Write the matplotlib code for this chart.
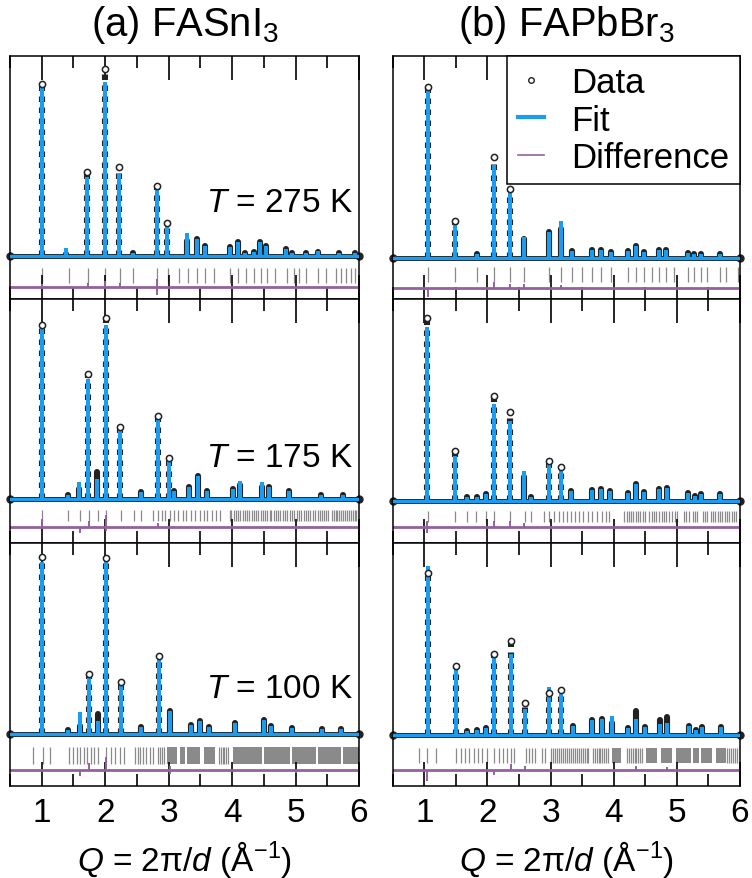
import numpy as np
import matplotlib
matplotlib.use("Agg")
import matplotlib.pyplot as plt
from matplotlib.lines import Line2D

plt.rcParams["font.family"] = ["Liberation Sans", "DejaVu Sans"]
plt.rcParams["mathtext.fontset"] = "custom"
plt.rcParams["mathtext.rm"] = "Liberation Sans"
plt.rcParams["mathtext.it"] = "Liberation Sans:italic"
plt.rcParams["font.size"] = 24

# ---- (a) FASnI3, 275 K ----
A1_Q = [1.00, 1.39, 1.72, 2.00, 2.22, 2.44, 2.81, 2.98, 3.29, 3.44, 3.58, 3.96,
        4.09, 4.21, 4.34, 4.44, 4.54, 4.85, 4.95, 5.16, 5.35, 5.69, 5.93]
A1_FIT = [0.861, 0.04, 0.393, 0.87, 0.41, 0.017, 0.334, 0.167, 0.117, 0.084, 0.05, 0.047,
          0.07, 0.017, 0.02, 0.07, 0.05, 0.037, 0.017, 0.017, 0.025, 0.013, 0.017]
A1_OBS = [0.86, 0.01, 0.418, 0.933, 0.443, 0.017, 0.348, 0.167, 0.075, 0.084, 0.05, 0.047,
          0.07, 0.017, 0.02, 0.07, 0.05, 0.037, 0.017, 0.017, 0.02, 0.013, 0.017]
A1_REFL = [1.01, 1.43, 1.73, 2.00, 2.23, 2.44, 2.82, 2.99, 3.16, 3.31, 3.45, 3.58, 3.71,
           3.96, 4.09, 4.22, 4.34, 4.45, 4.55, 4.67, 4.86, 4.98, 5.05, 5.16, 5.36, 5.48,
           5.64, 5.72, 5.80, 5.87, 5.93]
A1_BANDS = []
A1_DIFF_Q = [1.00, 1.73, 2.00, 2.23, 2.82, 2.82]
A1_DIFF_A = [0.015, 0.02, 0.03, 0.02, 0.04, -0.04]

# ---- (a) FASnI3, 175 K ----
A2_Q = [1.00, 1.41, 1.58, 1.73, 1.876, 2.01, 2.24, 2.56, 2.84, 3.00, 3.09, 3.32, 3.47,
        3.61, 4.01, 4.12, 4.47, 4.58, 4.90, 5.40, 5.74]
A2_FIT = [0.88, 0.02, 0.083, 0.60, 0.10, 0.873, 0.359, 0.033, 0.409, 0.204, 0.04, 0.062,
          0.117, 0.04, 0.05, 0.092, 0.083, 0.062, 0.038, 0.02, 0.02]
A2_OBS = [0.87, 0.02, 0.05, 0.626, 0.134, 0.906, 0.362, 0.033, 0.417, 0.204, 0.04, 0.062,
          0.117, 0.04, 0.05, 0.07, 0.06, 0.062, 0.038, 0.02, 0.02]
A2_REFL = [1.00, 1.42, 1.60, 1.74, 1.88, 2.01, 2.25, 2.46, 2.57, 2.76, 2.83, 2.89, 2.95,
           3.02, 3.08, 3.15, 3.22, 3.28, 3.35, 3.42, 3.49, 3.55, 3.61, 3.68, 3.75, 3.81,
           3.96, 3.99, 4.03, 4.06, 4.10, 4.13, 4.17, 4.20, 4.24, 4.27, 4.31, 4.34, 4.38,
           4.41, 4.45, 4.48, 4.52, 4.55, 4.59, 4.62, 4.66, 4.69, 4.73, 4.76, 4.80, 4.83,
           4.87, 4.92, 4.95, 4.98, 5.02, 5.05, 5.08, 5.14, 5.17, 5.20, 5.23, 5.27, 5.30,
           5.36, 5.39, 5.42, 5.45, 5.48, 5.51, 5.57, 5.60, 5.63, 5.66, 5.69, 5.72, 5.75,
           5.78, 5.81, 5.84, 5.87, 5.90, 5.93, 5.96]
A2_BANDS = []
A2_DIFF_Q = [1.00, 1.60, 1.74, 2.01, 2.01, 2.84]
A2_DIFF_A = [0.04, -0.03, 0.03, 0.06, -0.02, 0.02]

# ---- (a) FASnI3, 100 K ----
A3_Q = [1.00, 1.41, 1.60, 1.74, 1.88, 2.01, 2.25, 2.57, 2.85, 3.02, 3.35, 3.50, 3.64,
        4.04, 4.51, 4.61, 4.95, 5.42, 5.72]
A3_FIT = [0.897, 0.02, 0.113, 0.314, 0.07, 0.915, 0.27, 0.035, 0.40, 0.122, 0.049, 0.066,
          0.038, 0.056, 0.073, 0.04, 0.031, 0.026, 0.026]
A3_OBS = [0.923, 0.02, 0.044, 0.314, 0.105, 0.92, 0.27, 0.035, 0.41, 0.122, 0.049, 0.066,
          0.038, 0.056, 0.073, 0.04, 0.031, 0.026, 0.026]
A3_REFL = [0.87, 1.02, 1.13, 1.43, 1.50, 1.55, 1.61, 1.66, 1.71, 1.77, 1.83, 1.89, 2.02,
           2.09, 2.15, 2.23, 2.29, 2.47, 2.51, 2.55, 2.60, 2.64, 2.70, 2.75, 2.84, 2.87,
           2.90, 2.93, 3.79, 3.82, 3.85, 3.88, 3.91, 3.94]
A3_BANDS = [(2.97, 3.13), (3.18, 3.26), (3.29, 3.50), (3.56, 3.73), (4.02, 4.47),
            (4.50, 4.91), (4.95, 5.32), (5.35, 5.71), (5.74, 6.00)]
A3_DIFF_Q = [1.60, 1.74, 2.02, 3.02, 3.02, 5.00]
A3_DIFF_A = [-0.03, 0.035, 0.07, 0.02, -0.02, -0.015]

# ---- (b) FAPbBr3, 275 K ----
B1_Q = [1.055, 1.49, 1.83, 2.11, 2.36, 2.58, 2.98, 3.165, 3.34, 3.65, 3.80, 3.95, 4.22,
        4.35, 4.48, 4.72, 4.83, 5.17, 5.275, 5.38, 5.68]
B1_FIT = [0.847, 0.186, 0.02, 0.459, 0.327, 0.105, 0.132, 0.186, 0.038, 0.041, 0.041,
          0.03, 0.038, 0.059, 0.03, 0.041, 0.041, 0.025, 0.02, 0.02, 0.02]
B1_OBS = [0.847, 0.186, 0.02, 0.50, 0.343, 0.096, 0.132, 0.145, 0.038, 0.041, 0.041,
          0.03, 0.038, 0.059, 0.03, 0.041, 0.041, 0.025, 0.02, 0.02, 0.02]
B1_REFL = [1.055, 1.49, 1.83, 2.11, 2.36, 2.58, 2.98, 3.165, 3.34, 3.50, 3.65, 3.80, 3.95,
           4.22, 4.35, 4.48, 4.60, 4.72, 4.83, 4.95, 5.17, 5.275, 5.38, 5.48, 5.68, 5.78,
           5.97]
B1_BANDS = []
B1_DIFF_Q = [1.055, 2.11, 2.36, 2.58, 3.165]
B1_DIFF_A = [-0.045, 0.03, 0.02, 0.02, 0.015]

# ---- (b) FAPbBr3, 175 K ----
B2_Q = [1.05, 1.49, 1.67, 1.83, 1.97, 2.11, 2.36, 2.58, 2.69, 2.98, 3.16, 3.33, 3.65,
        3.80, 3.94, 4.22, 4.35, 4.48, 4.72, 4.84, 5.17, 5.29, 5.38, 5.68]
B2_FIT = [0.861, 0.224, 0.017, 0.017, 0.033, 0.48, 0.397, 0.149, 0.017, 0.199, 0.166,
          0.05, 0.053, 0.058, 0.046, 0.036, 0.083, 0.041, 0.058, 0.061, 0.036, 0.022,
          0.033, 0.033]
B2_OBS = [0.906, 0.248, 0.017, 0.017, 0.033, 0.52, 0.44, 0.116, 0.017, 0.199, 0.166,
          0.05, 0.053, 0.058, 0.046, 0.036, 0.083, 0.041, 0.058, 0.061, 0.036, 0.022,
          0.033, 0.033]
B2_REFL = [1.06, 1.49, 1.67, 1.82, 1.97, 2.11, 2.36, 2.60, 2.69, 2.90, 2.98, 3.06, 3.14,
           3.20, 3.26, 3.32, 3.39, 3.45, 3.52, 3.59, 3.66, 3.74, 3.81, 3.88, 3.93, 4.17,
           4.21, 4.24, 4.28, 4.31, 4.35, 4.39, 4.42, 4.46, 4.50, 4.56, 4.60, 4.64, 4.67,
           4.72, 4.76, 4.79, 4.83, 4.87, 4.93, 4.97, 5.01, 5.12, 5.15, 5.19, 5.25, 5.28,
           5.32, 5.41, 5.44, 5.48, 5.54, 5.58, 5.61, 5.65, 5.69, 5.72, 5.76, 5.80, 5.83,
           5.87, 5.91, 5.94]
B2_BANDS = []
B2_DIFF_Q = [1.05, 1.05, 2.11, 2.36, 2.58]
B2_DIFF_A = [0.03, -0.03, 0.03, 0.03, 0.02]

# ---- (b) FAPbBr3, 100 K ----
B3_Q = [1.06, 1.50, 1.67, 1.83, 1.98, 2.11, 2.37, 2.59, 2.98, 3.17, 3.35, 3.66, 3.81,
        3.97, 4.23, 4.36, 4.49, 4.74, 4.85, 5.20, 5.30, 5.40, 5.70]
B3_FIT = [0.88, 0.36, 0.02, 0.026, 0.036, 0.42, 0.42, 0.135, 0.248, 0.213, 0.049, 0.078,
          0.083, 0.10, 0.035, 0.083, 0.04, 0.057, 0.06, 0.045, 0.026, 0.04, 0.043]
B3_OBS = [0.84, 0.36, 0.02, 0.026, 0.036, 0.42, 0.49, 0.165, 0.22, 0.234, 0.049, 0.078,
          0.083, 0.06, 0.035, 0.127, 0.04, 0.078, 0.092, 0.045, 0.026, 0.04, 0.043]
B3_REFL = [0.91, 1.05, 1.18, 1.50, 1.58, 1.65, 1.71, 1.78, 1.85, 1.92, 1.99, 2.11, 2.18,
           2.24, 2.31, 2.38, 2.42, 2.61, 2.66, 2.70, 2.76, 2.87, 2.91, 3.01, 3.04, 3.07,
           3.10, 3.13, 3.17, 3.20, 3.23, 3.26, 3.29, 3.32, 3.36, 3.39, 3.42, 3.45, 3.48,
           3.51, 3.54, 3.57, 3.60, 3.67, 3.70, 3.73, 3.76, 3.79, 3.82, 3.85, 3.88, 3.91,
           4.21, 4.24, 4.27, 4.30, 4.33, 4.36, 4.39, 4.42, 4.45, 5.80, 5.83, 5.86, 5.89,
           5.92, 5.95]
B3_BANDS = [(3.98, 4.11), (4.51, 4.69), (4.75, 4.93), (4.98, 5.22), (5.25, 5.35),
            (5.38, 5.56), (5.62, 5.78)]
B3_DIFF_Q = [1.05, 2.11, 2.37, 2.59, 4.36, 4.85]
B3_DIFF_A = [-0.06, -0.03, 0.03, 0.02, 0.02, 0.015]

COLUMN_TITLES = ["(a) FASnI$_3$", "(b) FAPbBr$_3$"]
TEMP_LABELS = ["$T$ = 275 K", "$T$ = 175 K", "$T$ = 100 K"]
XLABEL = "$Q$ = 2π/$d$ (Å$^{-1}$)"

FIT_BLUE = "#1a9cf0"
OBS_BLACK = "#222222"
TICK_GRAY = "#8a8a8a"
DIFF_PURPLE = "#94609f"
Q_MIN, Q_MAX = 0.5, 6.0

# layout per panel: ylim bottom, reflection band top/bottom, difference level
LAYOUT = {
    (0, 0): (-0.217, -0.060, -0.135, -0.157),
    (1, 0): (-0.219, -0.055, -0.109, -0.142),
    (2, 0): (-0.272, -0.070, -0.157, -0.188),
    (0, 1): (-0.203, -0.045, -0.119, -0.147),
    (1, 1): (-0.209, -0.050, -0.108, -0.129),
    (2, 1): (-0.265, -0.068, -0.146, -0.180),
}
TEMP_Y = [0.40, 0.351, 0.402]

panels = {
    (0, 0): (A1_Q, A1_FIT, A1_OBS, A1_REFL, A1_BANDS, A1_DIFF_Q, A1_DIFF_A),
    (1, 0): (A2_Q, A2_FIT, A2_OBS, A2_REFL, A2_BANDS, A2_DIFF_Q, A2_DIFF_A),
    (2, 0): (A3_Q, A3_FIT, A3_OBS, A3_REFL, A3_BANDS, A3_DIFF_Q, A3_DIFF_A),
    (0, 1): (B1_Q, B1_FIT, B1_OBS, B1_REFL, B1_BANDS, B1_DIFF_Q, B1_DIFF_A),
    (1, 1): (B2_Q, B2_FIT, B2_OBS, B2_REFL, B2_BANDS, B2_DIFF_Q, B2_DIFF_A),
    (2, 1): (B3_Q, B3_FIT, B3_OBS, B3_REFL, B3_BANDS, B3_DIFF_Q, B3_DIFF_A),
}


def draw_panel(ax, data, layout):
    q, fit, obs, refl, bands, dq, da = data
    y_lo, t0, t1, d = layout
    q = np.array(q)
    fit = np.array(fit)
    obs = np.array(obs)

    ax.set_xlim(Q_MIN, Q_MAX)
    ax.set_ylim(y_lo, 1.0)

    # observed data (black) under the fit
    ax.plot([Q_MIN, Q_MAX], [0, 0], color=OBS_BLACK, lw=3.6, marker="o", ms=5,
            clip_on=False, zorder=2)
    tall = obs > 0.15
    ax.vlines(q[~tall], 0, obs[~tall], color=OBS_BLACK, lw=4.4, capstyle="round", zorder=2)
    ax.vlines(q[tall], 0, obs[tall], color=OBS_BLACK, lw=4.4,
              linestyles=[(0, (0.9, 0.9))], zorder=2)
    ax.scatter(q[tall], obs[tall], s=20, facecolor="white", edgecolor=OBS_BLACK,
               linewidth=1.1, zorder=4)

    # fit
    ax.plot([Q_MIN, Q_MAX], [0, 0], color=FIT_BLUE, lw=2.4, zorder=3)
    ax.vlines(q, 0, fit, color=FIT_BLUE, lw=2.9, zorder=3)

    # reflection positions
    ax.vlines(refl, t1, t0, color=TICK_GRAY, lw=0.9, zorder=1)
    for a, b in bands:
        ax.fill_between([a, b], t1, t0, color=TICK_GRAY, lw=0, zorder=1)

    # difference curve
    ax.axhline(d, color=DIFF_PURPLE, lw=2.0, zorder=2)
    ax.vlines(dq, d, d + np.array(da), color=DIFF_PURPLE, lw=1.4, zorder=2)

    ax.set_xticks([1, 2, 3, 4, 5, 6])
    ax.set_xticks(np.arange(0.5, 6.01, 0.5), minor=True)
    ax.set_yticks([])
    ax.tick_params(which="both", direction="in", top=True, bottom=True, width=1.2,
                   color="black")
    ax.tick_params(which="major", length=17)
    ax.tick_params(which="minor", length=8.6)
    for s in ax.spines.values():
        s.set_linewidth(1.1)


fig = plt.figure(figsize=(7.52, 8.79), dpi=100)
col_left = [10 / 752, 392.7 / 752]
col_width = [349 / 752, 347.3 / 752]
row_h = 243.3 / 879
row_bottom = [0.6583, 0.3815, 0.1047]

for (r, c), data in panels.items():
    ax = fig.add_axes([col_left[c], row_bottom[r], col_width[c], row_h])
    draw_panel(ax, data, LAYOUT[(r, c)])
    if r == 2:
        ax.tick_params(which="major", labelbottom=True, pad=8)
        ax.set_xlabel(XLABEL, labelpad=7)
    else:
        ax.tick_params(labelbottom=False)
    if r == 0:
        ax.set_title(COLUMN_TITLES[c], pad=15)
    if c == 0:
        ax.text(0.983, TEMP_Y[r], TEMP_LABELS[r], transform=ax.transAxes,
                ha="right", va="center")
    if r == 0 and c == 1:
        handles = [
            Line2D([], [], ls="none", marker="o", ms=4, mfc="white", mec=OBS_BLACK, mew=1.0),
            Line2D([], [], color=FIT_BLUE, lw=3),
            Line2D([], [], color=DIFF_PURPLE, lw=1.2),
        ]
        leg = ax.legend(handles, ["Data", "Fit", "Difference"], loc="upper right",
                        borderaxespad=0, fancybox=False, framealpha=1, fontsize=25,
                        edgecolor="black", handlelength=0.75, handletextpad=0.8,
                        labelspacing=0.12, borderpad=0.3)
        leg.get_frame().set_linewidth(1.1)

fig.savefig("out.png", dpi=100)
